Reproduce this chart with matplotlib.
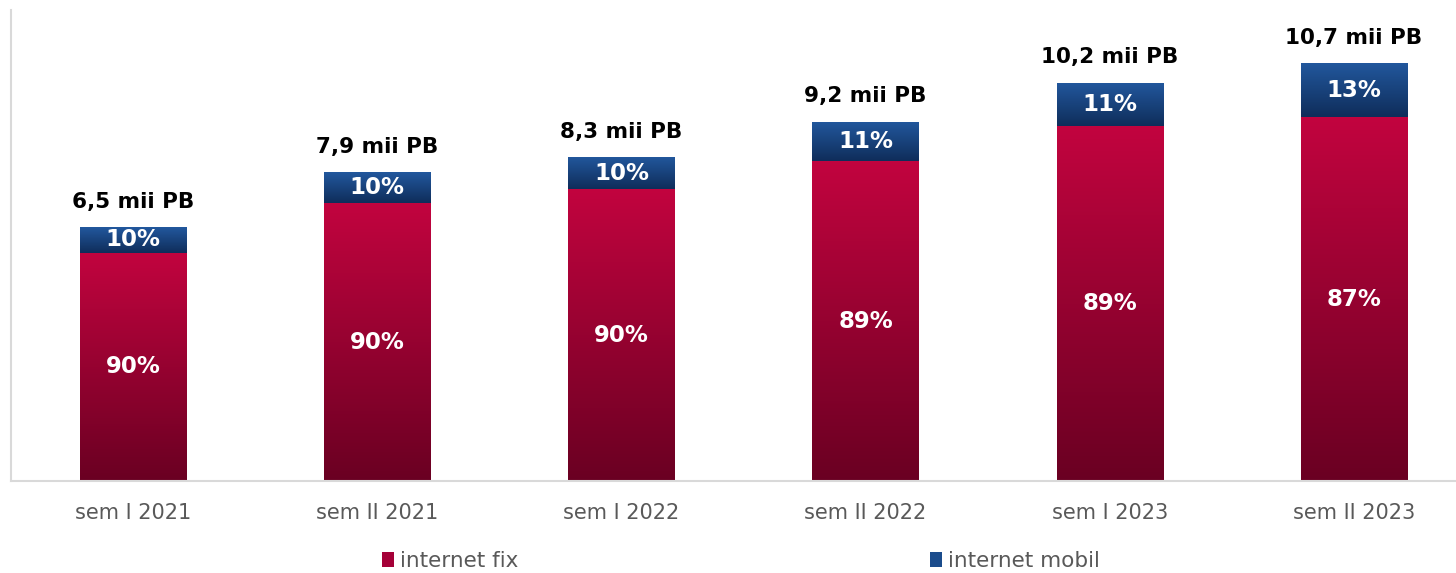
import matplotlib.pyplot as plt
import numpy as np
from matplotlib.colors import LinearSegmentedColormap
from matplotlib.patches import Rectangle

# data
categories = ["sem I 2021", "sem II 2021", "sem I 2022", "sem II 2022", "sem I 2023", "sem II 2023"]
totals = [6.5, 7.9, 8.3, 9.2, 10.2, 10.7]
total_labels = ["6,5 mii PB", "7,9 mii PB", "8,3 mii PB", "9,2 mii PB", "10,2 mii PB", "10,7 mii PB"]
fix_pct = [90, 90, 90, 89, 89, 87]
mobil_pct = [10, 10, 10, 11, 11, 13]
series_names = ["internet fix", "internet mobil"]

red_cmap = LinearSegmentedColormap.from_list("red", ["#6a0022", "#c2043f"])
blue_cmap = LinearSegmentedColormap.from_list("blue", ["#0f2d5a", "#22589e"])

fig = plt.figure(figsize=(14.56, 5.73), dpi=100)
ax = fig.add_axes([11 / 1456, 92 / 573, 1445 / 1456, 471 / 573])

x = np.arange(len(categories))
totals_a = np.array(totals)
fix_vals = totals_a * np.array(fix_pct) / 100
mob_vals = totals_a * np.array(mobil_pct) / 100

width = 0.435
bars_fix = ax.bar(x, fix_vals, width, color="none", edgecolor="none")
bars_mob = ax.bar(x, mob_vals, width, bottom=fix_vals, color="none", edgecolor="none")

grad = np.linspace(0, 1, 256).reshape(-1, 1)


def fill_gradient(bars, cmap):
    for b in bars:
        x0, y0 = b.get_x(), b.get_y()
        w, h = b.get_width(), b.get_height()
        im = ax.imshow(grad, cmap=cmap, origin="lower", aspect="auto",
                       extent=(x0, x0 + w, y0, y0 + h), zorder=2)
        im.set_clip_path(b)


fill_gradient(bars_fix, red_cmap)
fill_gradient(bars_mob, blue_cmap)

for i in range(len(categories)):
    ax.text(x[i], fix_vals[i] / 2, f"{fix_pct[i]}%", ha="center", va="center",
            color="white", fontsize=16.5, fontweight="bold", zorder=3)
    ax.text(x[i], fix_vals[i] + mob_vals[i] / 2, f"{mobil_pct[i]}%", ha="center", va="center",
            color="white", fontsize=16.5, fontweight="bold", zorder=3)
    ax.annotate(total_labels[i], (x[i], totals[i]), xytext=(0, 11), textcoords="offset points",
                ha="center", va="bottom", fontsize=15.5, fontweight="bold", color="black")

ax.set_xlim(-0.5, 5.5 - 20 / 244)
ax.set_ylim(0, 12.06)
ax.set_xticks(x)
ax.set_xticklabels(categories, fontsize=15, color="#595959")
ax.tick_params(axis="x", length=0, pad=16)
ax.set_yticks([])
for s in ["top", "right"]:
    ax.spines[s].set_visible(False)
for s in ["left", "bottom"]:
    ax.spines[s].set_color("#d9d9d9")
    ax.spines[s].set_linewidth(1.5)

# legend: two entries placed apart
h_fix = Rectangle((0, 0), 1, 1, facecolor="#a50038")
h_mob = Rectangle((0, 0), 1, 1, facecolor="#1b4c8c")
for h, name, xpos in [(h_fix, series_names[0], 382 / 1456), (h_mob, series_names[1], 930 / 1456)]:
    fig.legend([h], [name], loc="center left", bbox_to_anchor=(xpos, 1 - 561 / 573),
               frameon=False, fontsize=15.5, handlelength=0.55, handleheight=0.7,
               handletextpad=0.3, borderpad=0, borderaxespad=0, labelcolor="#595959")

fig.savefig("out.png", dpi=100)
